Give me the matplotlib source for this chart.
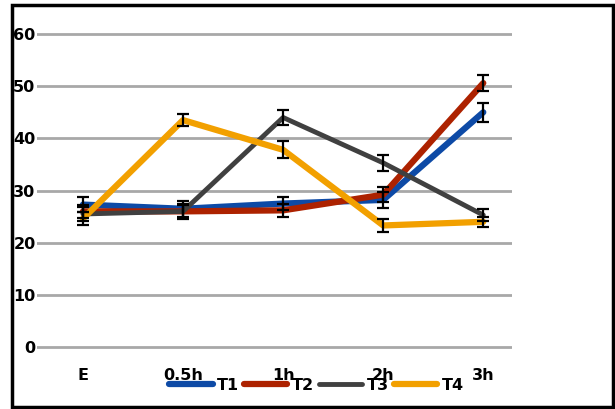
import matplotlib.pyplot as plt
from matplotlib.patches import Rectangle

# datos
tiempos = ["E", "0.5h", "1h", "2h", "3h"]
t1 = [27.3, 26.5, 27.5, 28.2, 45.0]
t2 = [26.0, 26.0, 26.2, 29.2, 50.6]
t3 = [25.5, 26.0, 44.0, 35.3, 25.3]
t4 = [24.6, 43.5, 37.8, 23.3, 24.0]
err1 = [1.5, 1.5, 1.3, 1.5, 1.8]
err2 = [1.3, 1.3, 1.2, 1.4, 1.5]
err3 = [1.3, 1.5, 1.5, 1.5, 1.2]
err4 = [1.2, 1.2, 1.6, 1.3, 1.0]
nombres = ["T1", "T2", "T3", "T4"]
colores = ["#0d4aa6", "#ad2200", "#404040", "#f2a000"]
grosores = [4.5, 4.5, 3.5, 4.5]

plt.rcParams["font.family"] = ["DejaVu Sans"]
plt.rcParams["font.weight"] = "bold"

fig = plt.figure(figsize=(6.15, 4.09), dpi=100)
ax = fig.add_axes([0.060, 0.1452, 0.773, 0.778])

x = list(range(len(tiempos)))
series = [t1, t2, t3, t4]
errores = [err1, err2, err3, err4]
for s, nombre, c, lw in zip(series, nombres, colores, grosores):
    ax.plot(x, s, color=c, lw=lw, label=nombre, solid_capstyle="round", zorder=3)
for s, e in zip(series, errores):
    ax.errorbar(x, s, yerr=e, fmt="none", ecolor="black", elinewidth=1.6,
                capsize=4, capthick=1.6, zorder=4)

ax.set_ylim(-0.5, 60.5)
ax.set_xlim(-0.46, 4.29)
ax.set_yticks(range(0, 61, 10))
ax.set_xticks(x)
ax.set_xticklabels(tiempos)
ax.grid(axis="y", color="#a8a8a8", lw=2)
ax.set_axisbelow(True)
for sp in ax.spines.values():
    sp.set_visible(False)
ax.tick_params(axis="both", length=0, labelsize=11.5)
ax.tick_params(axis="x", pad=13)
ax.tick_params(axis="y", pad=1)

fig.legend(loc="center", bbox_to_anchor=(0.515, 0.058), ncol=4, frameon=False,
           fontsize=11.5, handlelength=2.7, handletextpad=0.3, columnspacing=0.3)

# marco negro alrededor de la figura
fig.patches.append(Rectangle((0.02, 0.004), 0.976, 0.984, transform=fig.transFigure,
                             fill=False, edgecolor="black", lw=2.5))

plt.savefig("out.png", dpi=100)
